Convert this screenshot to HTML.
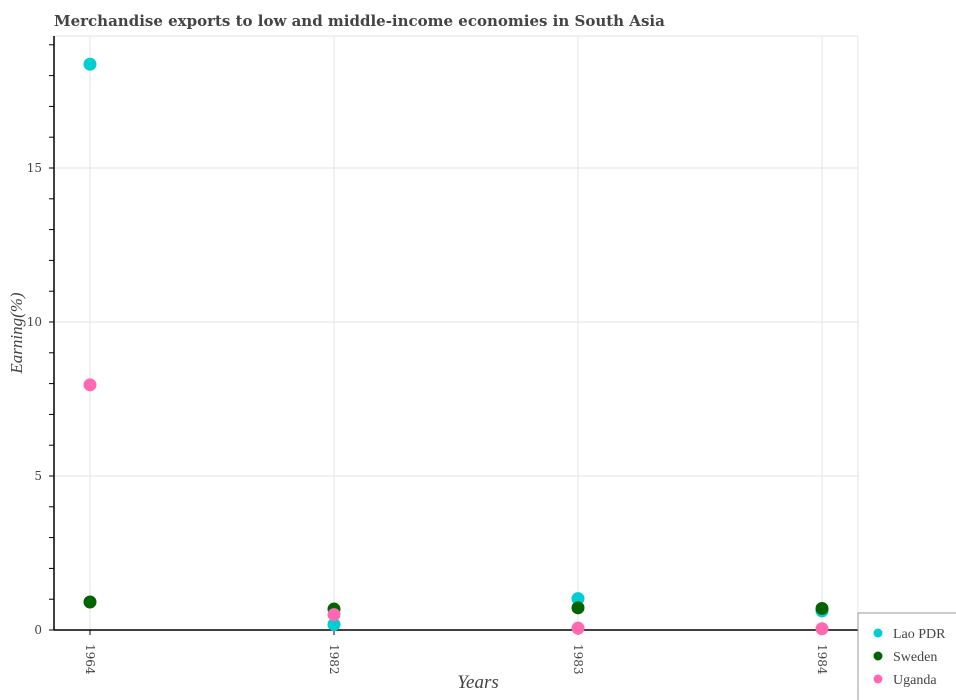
<!DOCTYPE html>
<html><head><meta charset="utf-8"><style>
body{margin:0;background:#fff;}
svg{display:block;font-family:"DejaVu Serif","Liberation Serif",serif;}
</style></head><body>
<svg id="chart" width="956" height="700">
<text x="54" y="26" font-size="15" font-weight="bold" fill="#444">Merchandise exports to low and middle-income economies in South Asia</text>
<g id="grid"></g><g id="axes"></g><g id="marks"></g>
<text x="478" y="688" font-size="19" font-style="italic" fill="#444" text-anchor="middle" font-family="Liberation Serif, serif">Years</text>
<text transform="translate(22,333) rotate(-90)" font-size="17" font-style="italic" fill="#444" text-anchor="middle" font-family="Liberation Serif, serif">Earning(%)</text>
<g>
<rect x="858" y="613" width="100" height="90" fill="#fff" stroke="#999"/>
<g id="legend"></g></g>
</svg>
<script>
const categories=["1964","1982","1983","1984"];
const lao=[18.37,0.18,1.02,0.62];
const sweden=[0.91,0.68,0.72,0.70];
const uganda=[7.96,0.5,0.06,0.04];
const seriesNames=["Lao PDR","Sweden","Uganda"];
const yTicks=[0,5,10,15];
const colors=["#00ced1","#006400","#ff69b4"];
const NS="http://www.w3.org/2000/svg";
const L=54,R=956,T=36,B=630;
const x=i=>90+i*244;
const y=v=>B-v*30.8;
function mk(t,a,p){const e=document.createElementNS(NS,t);for(const k in a)e.setAttribute(k,a[k]);p.appendChild(e);return e;}
const g=document.getElementById('grid'),ax=document.getElementById('axes'),m=document.getElementById('marks'),lg=document.getElementById('legend');
mk('line',{x1:L,y1:T,x2:858,y2:T,stroke:'#e3e3e3'},g);
categories.forEach((c,i)=>{const l=mk('line',{x1:x(i),y1:T,x2:x(i),y2:B,stroke:'#e3e3e3'},g);


mk('line',{x1:x(i),y1:B,x2:x(i),y2:B+5,stroke:'#000'},ax);
const t=mk('text',{transform:`translate(${x(i)-4},${B+14}) rotate(90)`,'font-size':12,fill:'#444'},ax);t.textContent=c;

});
mk('line',{x1:858,y1:T,x2:858,y2:B,stroke:'#e3e3e3'},g);
yTicks.forEach(v=>{if(v>0){const l=mk('line',{x1:L,y1:y(v),x2:858,y2:y(v),stroke:'#e3e3e3'},g);

}
const t=mk('text',{x:L-12,y:y(v)+4,'font-size':12,fill:'#444','text-anchor':'end'},ax);t.textContent=v;

});
for(let v=0;v<=19;v++)mk('line',{x1:L-5,y1:y(v),x2:L,y2:y(v),stroke:'#000'},ax);
mk('line',{x1:L,y1:T,x2:L,y2:B,stroke:'#000','stroke-width':1.5},ax);
mk('line',{x1:L,y1:B,x2:858,y2:B,stroke:'#000','stroke-width':1.5},ax);
[lao,sweden,uganda].forEach((s,si)=>s.forEach((v,i)=>{const c=mk('circle',{cx:x(i),cy:y(v),r:6.5,fill:colors[si]},m);

}));
seriesNames.forEach((n,i)=>{const yy=633+i*23;
const c=mk('circle',{cx:878,cy:yy,r:4.5,fill:colors[i]},lg);


const t=mk('text',{x:893,y:yy+5,'font-size':14,fill:'#444','font-family':'Liberation Serif, serif'},lg);t.textContent=n;

});
</script>
</body></html>
